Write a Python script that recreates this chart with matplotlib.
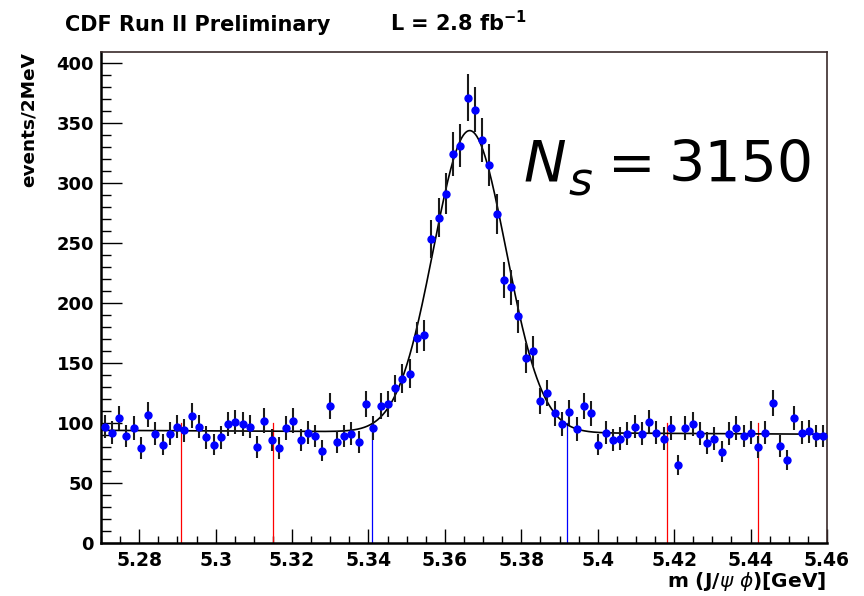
import numpy as np
import matplotlib
matplotlib.use("Agg")
import matplotlib.pyplot as plt
from matplotlib.ticker import MultipleLocator

# Histogram: 100 bins between 5.27 and 5.46 GeV
x_lo, x_hi, n_bins = 5.27, 5.46, 100
counts = [
    97, 92, 104, 89, 96, 79, 107, 91, 82, 91,
    97, 94, 106, 97, 88, 82, 88, 99, 101, 99,
    97, 80, 102, 86, 79, 96, 102, 86, 92, 89,
    77, 114, 84, 89, 91, 84, 116, 96, 114, 116,
    129, 137, 141, 171, 173, 253, 271, 291, 324, 331,
    371, 361, 336, 315, 274, 219, 213, 189, 154, 160,
    118, 125, 108, 99, 109, 95, 114, 108, 82, 92,
    86, 87, 91, 97, 91, 101, 92, 87, 96, 65,
    96, 99, 91, 83, 87, 76, 91, 96, 89, 92,
    80, 92, 117, 81, 69, 104, 92, 93, 89, 89,
]

# Fit result: Gaussian signal + linear background
n_signal = 3150
mass_mean = 5.3665
mass_sigma = 0.0095
bkg_level = 92.2
bkg_slope = -17.0

# Sideband / signal window markers
red_cuts = [5.291, 5.315, 5.418, 5.442]
blue_cuts = [5.341, 5.392]
cut_height = 100

bin_w = (x_hi - x_lo) / n_bins
centers = x_lo + bin_w * (np.arange(n_bins) + 0.5)
counts = np.array(counts, dtype=float)
errors = np.sqrt(counts)


def fit_model(m):
    sig = n_signal * bin_w / (mass_sigma * np.sqrt(2 * np.pi)) * \
        np.exp(-0.5 * ((m - mass_mean) / mass_sigma) ** 2)
    return sig + bkg_level + bkg_slope * (m - mass_mean)


W, H = 864, 596
fig = plt.figure(figsize=(W / 100, H / 100), dpi=100)
ax = fig.add_axes([101 / W, 1 - 543 / H, (827 - 101) / W, (543 - 52) / H])

for xc in red_cuts:
    ax.plot([xc, xc], [0, cut_height], color="#ff0000", lw=0.9, zorder=2)
for xc in blue_cuts:
    ax.plot([xc, xc], [0, cut_height], color="#0000ff", lw=0.9, zorder=2)

mm = np.linspace(x_lo, x_hi, 1500)
ax.plot(mm, fit_model(mm), color="black", lw=1.2, zorder=3)

ax.errorbar(centers, counts, yerr=errors, fmt="none", ecolor="#1a1a1a",
            elinewidth=1.5, capsize=0, zorder=4)
ax.plot(centers, counts, "o", color="#0000ff", ms=5.0, mec="#0000ff", zorder=5)

ax.set_xlim(x_lo, x_hi)
ax.set_ylim(0, 409)

ax.xaxis.set_major_locator(MultipleLocator(0.02))
ax.xaxis.set_minor_locator(MultipleLocator(0.005))
ax.yaxis.set_major_locator(MultipleLocator(50))
ax.yaxis.set_minor_locator(MultipleLocator(10))
ax.xaxis.set_major_formatter(matplotlib.ticker.FuncFormatter(
    lambda v, p: ("%.2f" % v).rstrip("0").rstrip(".")))

ax.tick_params(axis="x", which="major", direction="in", length=10, width=1.0,
               labelsize=13.5, pad=6, top=False)
ax.tick_params(axis="x", which="minor", direction="in", length=5, width=1.0, top=False)
ax.tick_params(axis="y", which="major", direction="in", length=15, width=1.0,
               labelsize=13, pad=5, right=False)
ax.tick_params(axis="y", which="minor", direction="in", length=7.5, width=1.0, right=False)
for lbl in ax.get_xticklabels() + ax.get_yticklabels():
    lbl.set_fontweight("bold")

ax.spines["left"].set_linewidth(1.8)
ax.spines["bottom"].set_linewidth(1.8)
for s in ("top", "right"):
    ax.spines[s].set_linewidth(1.2)
    ax.spines[s].set_color("#3a2a2a")

# Axis titles, aligned to the axis ends
fig.text(29 / W, 1 - 52 / H, "events/2MeV", rotation=90, ha="center", va="top",
         fontsize=13.3, fontweight="bold")
fig.text(826 / W, 1 - 587 / H, r"m (J/$\psi$ $\phi$)[GeV]", ha="right", va="baseline",
         fontsize=14.5, fontweight="bold")

# Header
fig.text(65 / W, 1 - 31 / H, "CDF Run II Preliminary", ha="left", va="baseline",
         fontsize=15, fontweight="bold")
fig.text(390 / W, 1 - 31 / H, r"L = 2.8 fb$^{\mathbf{-1}}$", ha="left", va="baseline",
         fontsize=15, fontweight="bold")

# Signal yield
fig.text(523 / W, 1 - 182 / H, "N", ha="left", va="baseline", fontsize=41,
         style="italic")
fig.text(568 / W, 1 - 195 / H, "s", ha="left", va="baseline", fontsize=33,
         style="italic")
fig.text(632 / W, 1 - 182 / H, "=", ha="center", va="baseline", fontsize=41)
fig.text(814 / W, 1 - 182 / H, "%d" % n_signal, ha="right", va="baseline",
         fontsize=41)

fig.savefig("out.png", dpi=100)
